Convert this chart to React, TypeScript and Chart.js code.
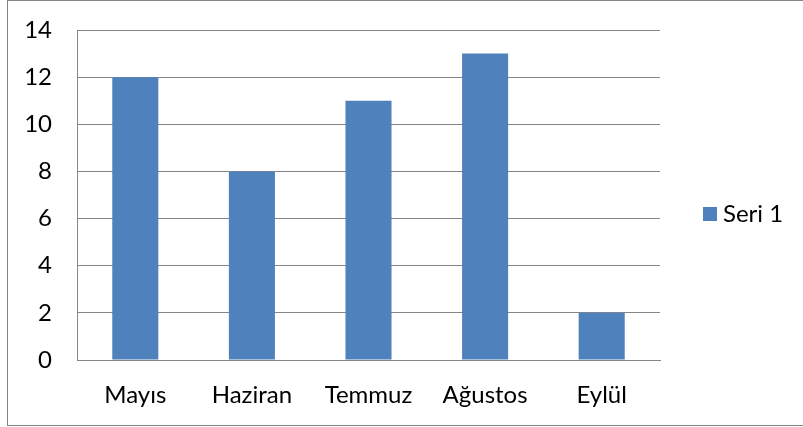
import React, { useEffect, useRef } from "react";
import { Chart, registerables } from "chart.js";

Chart.register(...registerables);

const categories = ["Mayıs", "Haziran", "Temmuz", "Ağustos", "Eylül"];
const seriesName = "Seri 1";
const seriesValues = [12, 8, 11, 13, 2];
const yMin = 0;
const yMax = 14;
const yStep = 2;

const FONT = "Lato";
const FONT_SIZE = 24;
const BAR_COLOR = "#4F81BD";
const GRID_COLOR = "#868686";

const legendPlugin = {
  id: "customLegend",
  afterDraw(chart: any) {
    const ctx = chart.ctx;
    const ds = chart.data.datasets[0];
    ctx.save();
    ctx.fillStyle = ds.backgroundColor;
    ctx.fillRect(703, 207, 14, 14);
    ctx.fillStyle = "#000";
    ctx.font = `${FONT_SIZE}px ${FONT}`;
    ctx.textBaseline = "middle";
    ctx.textAlign = "left";
    ctx.fillText(ds.label, 723, 214);
    ctx.restore();
  },
};

export default function App() {
  const ref = useRef<HTMLCanvasElement | null>(null);
  useEffect(() => {
    if (!ref.current) return;
    const chart = new Chart(ref.current, {
      type: "bar",
      data: {
        labels: categories,
        datasets: [
          {
            label: seriesName,
            data: seriesValues,
            backgroundColor: BAR_COLOR,
            borderWidth: 0,
            categoryPercentage: 1,
            barPercentage: 0.395,
          },
        ],
      },
      options: {
        animation: false,
        responsive: false,
        maintainAspectRatio: false,
        layout: { padding: { top: 30, right: 143, bottom: 0, left: 0 } },
        plugins: {
          legend: { display: false },
          tooltip: { enabled: false },
        },
        scales: {
          x: {
            grid: { display: false, drawTicks: false },
            border: { display: true, color: GRID_COLOR, width: 1 },
            ticks: {
              color: "#000",
              font: { family: FONT, size: FONT_SIZE },
              padding: 21,
              maxRotation: 0,
            },
            afterFit(scale: any) {
              scale.height = 67;
            },
          },
          y: {
            min: yMin,
            max: yMax,
            grid: { color: GRID_COLOR, lineWidth: 1, drawTicks: false },
            border: { display: true, color: GRID_COLOR, width: 1 },
            ticks: {
              stepSize: yStep,
              color: "#000",
              font: { family: FONT, size: FONT_SIZE, lineHeight: 0.1 },
              padding: 25,
            },
            afterFit(scale: any) {
              scale.width = 77;
            },
          },
        },
      },
      plugins: [legendPlugin],
    });
    return () => chart.destroy();
  }, []);

  return (
    <div style={{ position: "fixed", left: 0, top: 0, width: 803, height: 427, background: "#fff" }}>
      <canvas ref={ref} width={803} height={427} style={{ position: "absolute", left: 0, top: 0, width: 803, height: 427 }} />
      <div
        style={{
          position: "absolute",
          left: 7,
          top: 0,
          width: 800,
          height: 426,
          borderLeft: `1px solid ${GRID_COLOR}`,
          borderTop: `1px solid ${GRID_COLOR}`,
          borderBottom: `1px solid ${GRID_COLOR}`,
          boxSizing: "border-box",
          pointerEvents: "none",
        }}
      />
    </div>
  );
}
